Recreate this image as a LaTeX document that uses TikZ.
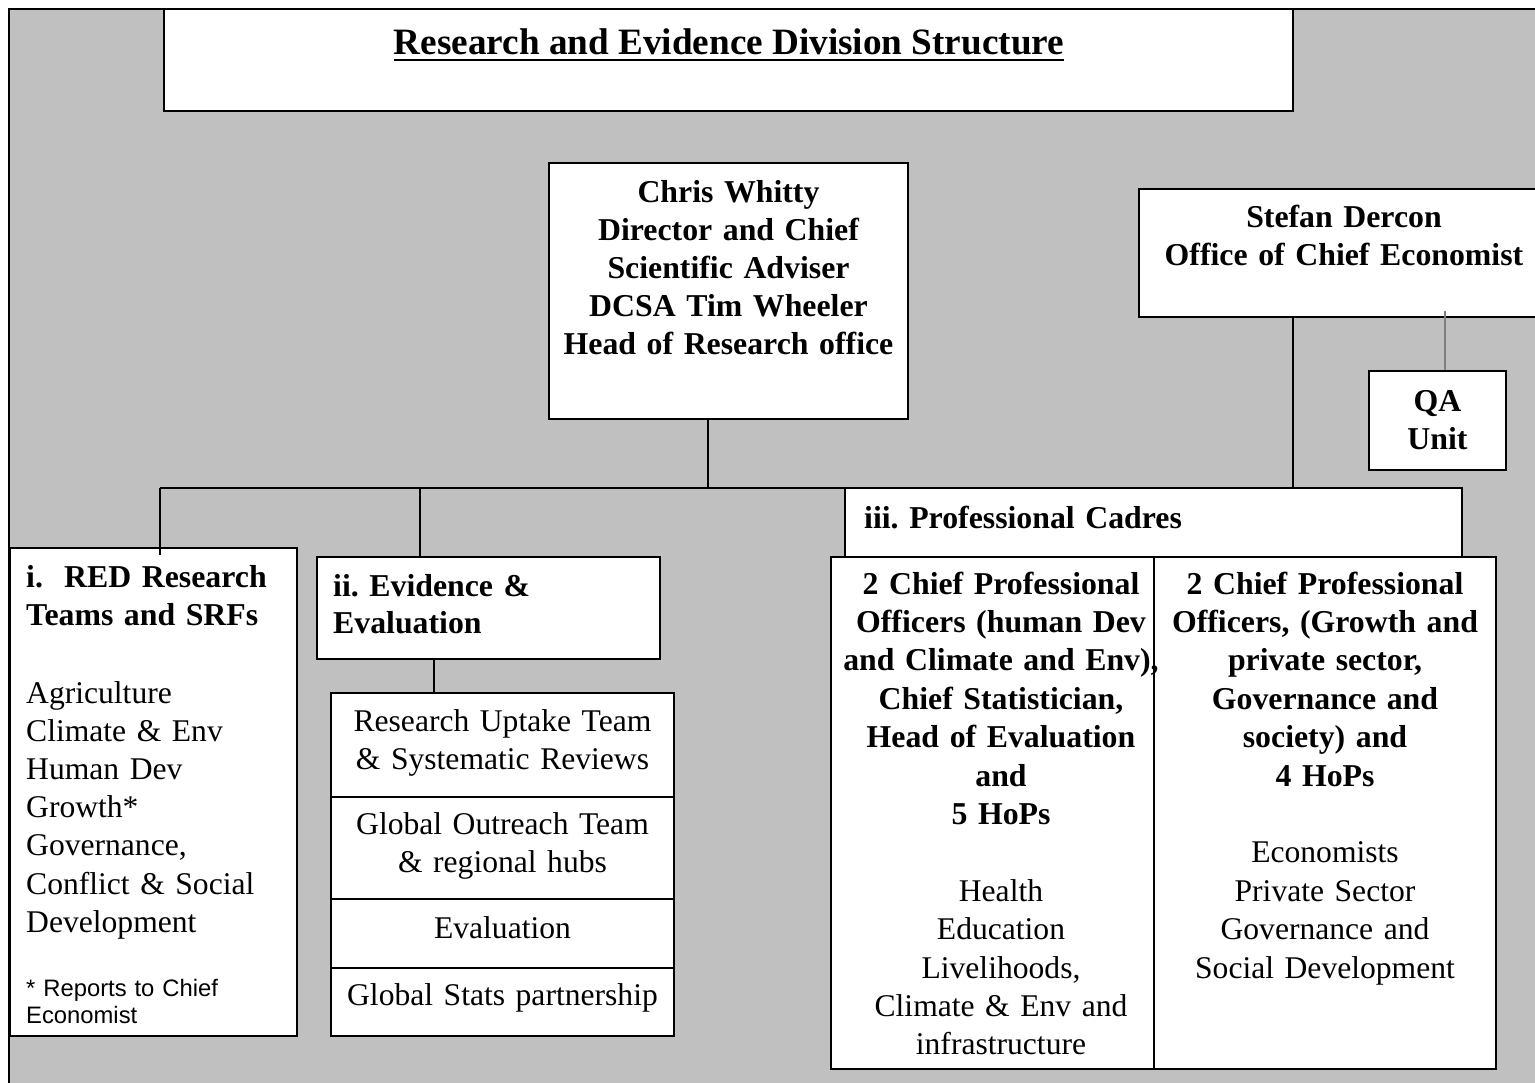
\documentclass[tikz,border=0pt]{standalone}
\usepackage{fontspec}
\setmainfont{Liberation Serif}
\newfontfamily\arialf{Liberation Sans}
\definecolor{bgray}{RGB}{192,192,192}
\definecolor{qaline}{RGB}{128,128,128}
\frenchspacing
\begin{document}
\begin{tikzpicture}[x=1pt,y=-1pt,
  box/.style={draw=black,line width=2pt,fill=white,inner sep=0pt},
  conn/.style={draw=black,line width=2pt},
  bt/.style={inner sep=0pt,anchor=base,text width=440pt,align=center,
             font=\frenchspacing\fontsize{31.8}{#1}\selectfont\bfseries},
  bt/.default=38.4,
  rt/.style={inner sep=0pt,anchor=base,text width=440pt,align=center,
             font=\frenchspacing\fontsize{31.6}{#1}\selectfont},
  rt/.default=38.4,
  btl/.style={inner sep=0pt,anchor=base west,text width=600pt,align=left,
             font=\frenchspacing\fontsize{31.8}{38.3}\selectfont\bfseries},
  rtl/.style={inner sep=0pt,anchor=base west,text width=600pt,align=left,
             font=\frenchspacing\fontsize{31.6}{38.2}\selectfont},
  ft/.style={inner sep=0pt,anchor=base west,text width=600pt,align=left,
             font=\frenchspacing\arialf\fontsize{23.8}{26.6}\selectfont}]
\useasboundingbox (0,0) rectangle (1535,1083);
% background and frame
\fill[bgray] (9,9) rectangle (1535,1083);
\draw[line width=2pt] (9,1083) -- (9,9) -- (1535,9);

% bus coordinates
\coordinate (busL) at (160,488);
\coordinate (busR) at (1293,488);
\coordinate (jc) at (708,488);
\coordinate (jii) at (420,488);
\coordinate (ev) at (434,0);
\coordinate (qx) at (1445,311);

% boxes
\node[box,minimum width=1129pt,minimum height=102pt] (title) at (728.5,60) {};
\node[box,minimum width=359pt,minimum height=256pt] (chris) at (728.5,291) {};
\node[box,minimum width=408pt,minimum height=128pt] (stefan) at (1343,253) {};
\node[box,minimum width=137pt,minimum height=99pt] (qa) at (1437.5,420.5) {};

% connectors
\draw[conn] (busL) -- (busR);
\draw[conn] (jc |- chris.south) -- (jc);
\draw[conn] (busR |- stefan.south) -- (busR);
\draw[line width=2pt,draw=qaline] (qx) -- (qx |- qa.north);

\node[box,minimum width=287pt,minimum height=488pt] (boxi) at (153.5,792) {};
\node[box,minimum width=343pt,minimum height=102pt] (boxii) at (488.5,608) {};
\node[box,minimum width=343pt,minimum height=104pt] (sub1) at (502.5,745) {};
\node[box,minimum width=343pt,minimum height=102pt] (sub2) at (502.5,848) {};
\node[box,minimum width=343pt,minimum height=69pt] (sub3) at (502.5,933.5) {};
\node[box,minimum width=343pt,minimum height=68pt] (sub4) at (502.5,1002) {};
\node[box,minimum width=617pt,minimum height=69pt] (cadres) at (1153.5,522.5) {};
\node[box,minimum width=323pt,minimum height=512pt] (cleft) at (992.5,813) {};
\node[box,minimum width=342pt,minimum height=512pt] (cright) at (1325,813) {};

\draw[conn] (busL) -- ([yshift=-8pt]busL |- boxi.north);
\draw[conn] (jii) -- (jii |- boxii.north);
\draw[conn] (ev |- boxii.south) -- (ev |- sub1.north);

% title
\node[inner sep=0pt,anchor=base,font=\fontsize{37.2}{44}\selectfont\bfseries] (ttl) at (729,55) {Research and Evidence Division Structure};
\draw[line width=2.2pt] ([yshift=-5pt]ttl.base west) -- ([yshift=-5pt]ttl.base east);

% Chris
\node[bt=37.9] (tchris) at (728.5,202.7) {Chris Whitty\\Director and Chief\\Scientific Adviser\\DCSA Tim Wheeler\\Head of Research office};
% Stefan
\node[bt=38] (tstefan) at (1344,228) {Stefan Dercon\\Office of Chief Economist};
% QA
\node[bt=38] (tqa) at (1437.5,411) {QA\\Unit};

% box i
\node[btl] (ti) at (26,587) {i.\ \ RED Research\\Teams and SRFs};
\node[rtl] (tilist) at (26,703) {Agriculture\\Climate \& Env\\Human Dev\\Growth*\\Governance,\\Conflict \& Social\\Development};
\node[ft] (tfoot) at (26,996.7) {* Reports to Chief\\Economist};

% box ii
\node[btl,font=\frenchspacing\fontsize{31.8}{37}\selectfont\bfseries] (tii) at (333,596) {ii. Evidence \&\\Evaluation};
\node[rt=37.8] (ts1) at (502.5,731.7) {Research Uptake Team\\\& Systematic Reviews};
\node[rt=38] (ts2) at (502.5,834.3) {Global Outreach Team\\\& regional hubs};
\node[rt] (ts3) at (502.5,938.3) {Evaluation};
\node[rt] (ts4) at (502.5,1005) {Global Stats partnership};

% cadres
\node[btl] (tcad) at (864,528) {iii. Professional Cadres};
\node[bt] (tcl) at (1001,594) {2 Chief Professional\\Officers (human Dev\\and Climate and Env),\\Chief Statistician,\\Head of Evaluation\\and\\5 HoPs};
\node[rt] (tcl2) at (1001,901.2) {Health\\Education\\Livelihoods,\\Climate \& Env and\\infrastructure};
\node[bt] (tcr) at (1325,594) {2 Chief Professional\\Officers, (Growth and\\private sector,\\Governance and\\society) and\\4 HoPs};
\node[rt] (tcr2) at (1325,862.8) {Economists\\Private Sector\\Governance and\\Social Development};
\end{tikzpicture}
\end{document}
